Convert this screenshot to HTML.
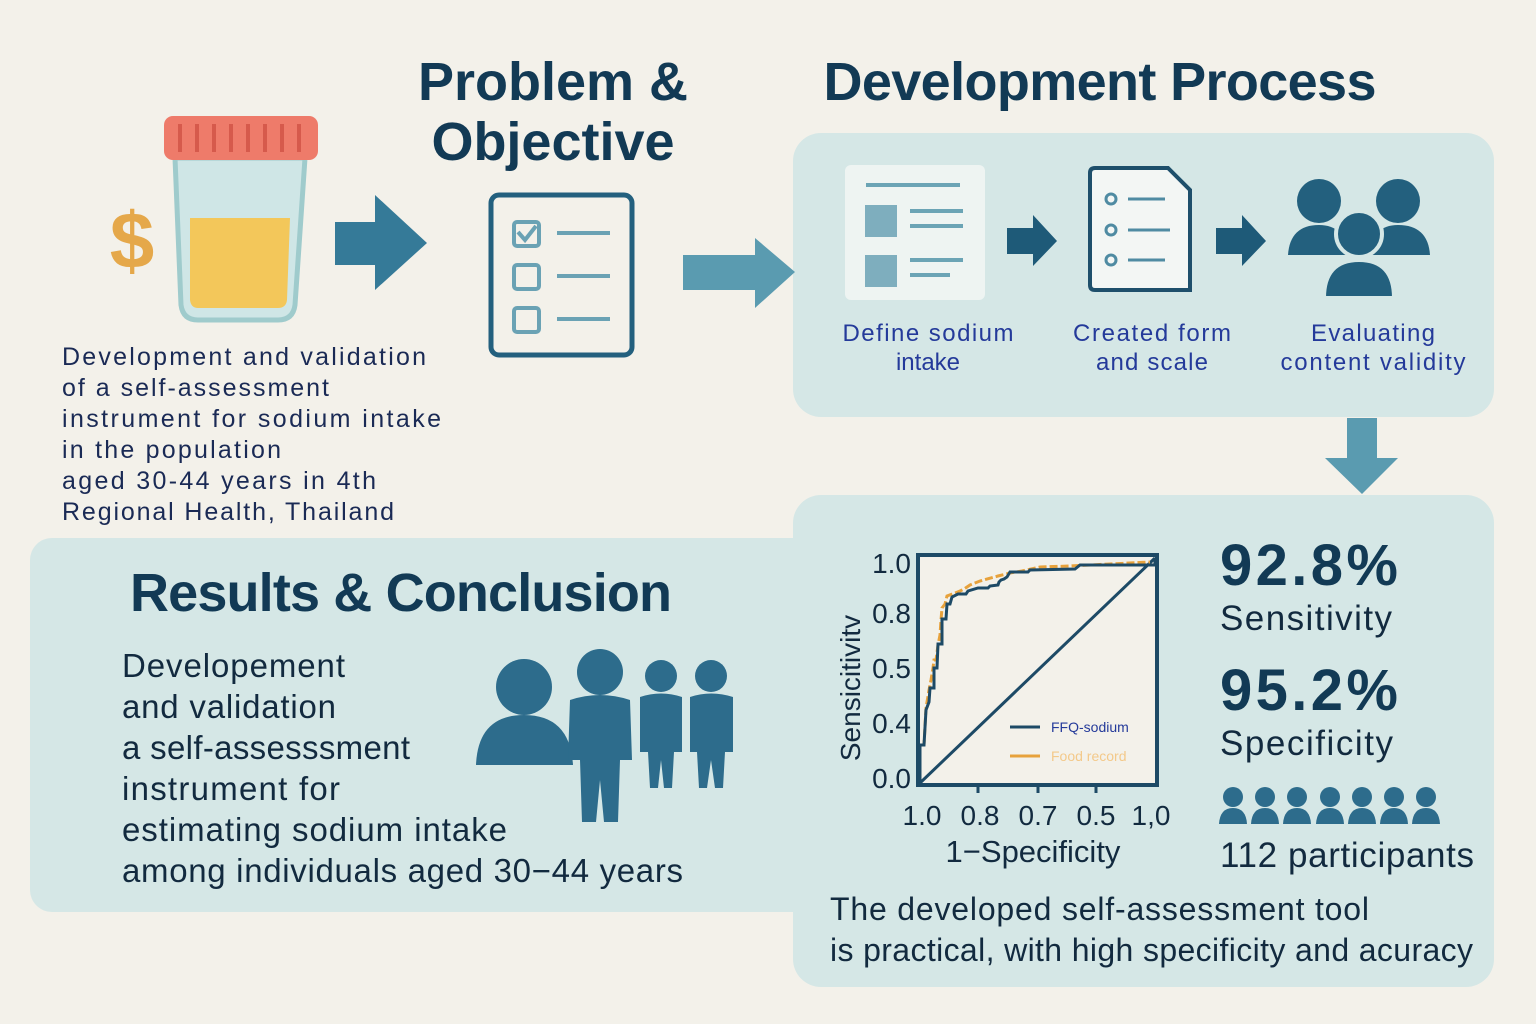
<!DOCTYPE html>
<html><head><meta charset="utf-8"><style>
html,body{margin:0;padding:0;background:#f3f1ea;}
svg{display:block}
text{font-family:"Liberation Sans","DejaVu Sans",sans-serif}
</style></head><body>
<svg width="1536" height="1024" viewBox="0 0 1536 1024" xmlns="http://www.w3.org/2000/svg">
<rect width="1536" height="1024" fill="#f3f1ea"/>
<rect x="793" y="133" width="701" height="284" rx="28" fill="#d5e7e6"/>
<rect x="30" y="538" width="800" height="374" rx="22" fill="#d5e7e6"/>
<rect x="793" y="495" width="701" height="492" rx="28" fill="#d5e7e6"/>
<text x="553" y="100" font-size="54" font-weight="bold" fill="#123a55" text-anchor="middle">Problem &amp;</text>
<text x="553" y="160" font-size="54" font-weight="bold" fill="#123a55" text-anchor="middle">Objective</text>
<text x="1100" y="100" font-size="54" font-weight="bold" fill="#123a55" text-anchor="middle" textLength="553">Development Process</text>
<text x="130" y="611" font-size="54" font-weight="bold" fill="#123a55" textLength="542">Results &amp; Conclusion</text>
<text x="132" y="268" font-size="80" font-weight="bold" fill="#e5a84a" text-anchor="middle">$</text>
<path d="M175 158 L305 158 L295 305 Q293 320 278 320 L198 320 Q183 320 181 305 Z" fill="#cfe6e6" stroke="#9fcbcc" stroke-width="5"/>
<path d="M190 218 L290 218 L287 300 Q286 308 278 308 L198 308 Q191 308 190 300 Z" fill="#f3c75a"/>
<rect x="164" y="116" width="154" height="44" rx="9" fill="#ee7b6a"/>
<g stroke="#d65a4c" stroke-width="4"><line x1="180" y1="124" x2="180" y2="152"/><line x1="197" y1="124" x2="197" y2="152"/><line x1="214" y1="124" x2="214" y2="152"/><line x1="231" y1="124" x2="231" y2="152"/><line x1="248" y1="124" x2="248" y2="152"/><line x1="265" y1="124" x2="265" y2="152"/><line x1="282" y1="124" x2="282" y2="152"/><line x1="299" y1="124" x2="299" y2="152"/></g>
<path d="M335 222 L375 222 L375 195 L427 243 L375 290 L375 265 L335 265 Z" fill="#357a98"/>
<path d="M683 255 L755 255 L755 238 L795 272 L755 308 L755 290 L683 290 Z" fill="#5a9bb0"/>
<path d="M1007 228 L1033 228 L1033 215 L1057 241 L1033 266 L1033 254 L1007 254 Z" fill="#1e5a78"/>
<path d="M1216 228 L1242 228 L1242 215 L1266 241 L1242 266 L1242 254 L1216 254 Z" fill="#1e5a78"/>
<path d="M1347 418 L1377 418 L1377 458 L1398 458 L1362 494 L1325 458 L1347 458 Z" fill="#5a9bb0"/>
<rect x="491" y="195" width="141" height="160" rx="8" fill="none" stroke="#23607e" stroke-width="5"/>
<g fill="none" stroke="#6aa2b4" stroke-width="4"><rect x="514" y="222" width="25" height="24" rx="3"/><rect x="514" y="265" width="25" height="24" rx="3"/><rect x="514" y="308" width="25" height="24" rx="3"/>
<path d="M518 232 L525 240 L536 226"/><line x1="557" y1="233" x2="610" y2="233"/><line x1="557" y1="276" x2="610" y2="276"/><line x1="557" y1="319" x2="610" y2="319"/></g>
<g font-size="25" fill="#1a2a55"><text x="62" y="365" textLength="364">Development and validation</text><text x="62" y="396" textLength="267">of a self-assessment</text><text x="62" y="427" textLength="379">instrument for sodium intake</text><text x="62" y="458" textLength="219">in the population</text><text x="62" y="489" textLength="314">aged 30-44 years in 4th</text><text x="62" y="520" textLength="332">Regional Health, Thailand</text></g>
<rect x="845" y="165" width="140" height="135" rx="6" fill="#eef4f2"/>
<g stroke="#6ba4b5" stroke-width="4"><line x1="866" y1="185" x2="960" y2="185"/><line x1="910" y1="211" x2="963" y2="211"/><line x1="910" y1="226" x2="963" y2="226"/><line x1="910" y1="260" x2="963" y2="260"/><line x1="910" y1="275" x2="950" y2="275"/></g>
<rect x="865" y="205" width="32" height="32" fill="#7eaebe"/><rect x="865" y="255" width="32" height="32" fill="#7eaebe"/>
<path d="M1095 168 L1168 168 L1190 190 L1190 290 L1095 290 Q1090 290 1090 285 L1090 173 Q1090 168 1095 168 Z" fill="#f3f6f4" stroke="#1e4f6b" stroke-width="4"/>
<g fill="none" stroke="#4f8ba2" stroke-width="3"><circle cx="1111" cy="199" r="5"/><circle cx="1111" cy="230" r="5"/><circle cx="1111" cy="260" r="5"/><line x1="1128" y1="199" x2="1165" y2="199"/><line x1="1128" y1="230" x2="1170" y2="230"/><line x1="1128" y1="260" x2="1165" y2="260"/></g>
<g fill="#23607e"><circle cx="1319" cy="201" r="22"/><path d="M1288 255 Q1290 225 1319 225 Q1345 225 1350 255 Z"/><circle cx="1398" cy="201" r="22"/><path d="M1368 255 Q1372 225 1398 225 Q1428 225 1430 255 Z"/><circle cx="1359" cy="234" r="23" stroke="#d5e7e6" stroke-width="4"/><path d="M1324 298 Q1324 260 1359 260 Q1394 260 1394 298 Z" stroke="#d5e7e6" stroke-width="4"/></g>
<g font-size="24" fill="#243a9a" text-anchor="middle"><text x="928" y="341" textLength="171">Define sodium</text><text x="928" y="370">intake</text><text x="1152" y="341" textLength="158">Created form</text><text x="1152" y="370" textLength="112">and scale</text><text x="1373" y="341" textLength="124">Evaluating</text><text x="1373" y="370" textLength="185">content validity</text></g>
<g font-size="33" fill="#122a3f"><text x="122" y="677" textLength="223">Developement</text><text x="122" y="718" textLength="214">and validation</text><text x="122" y="759" textLength="288">a self-assesssment</text><text x="122" y="800" textLength="218">instrument for</text><text x="122" y="841" textLength="385">estimating sodium intake</text><text x="122" y="882" textLength="561">among individuals aged 30−44 years</text></g>
<g fill="#2d6c8c"><circle cx="524" cy="687" r="28"/><path d="M476 765 Q478 715 524 715 Q570 715 573 765 Z"/>
<circle cx="600" cy="672" r="23"/><path d="M570 700 Q600 690 630 700 L632 760 L620 760 L618 822 L604 822 L600 780 L596 822 L582 822 L580 760 L568 760 Z"/>
<circle cx="661" cy="676" r="16"/><path d="M640 697 Q661 690 682 697 L682 752 L674 752 L672 788 L664 788 L661 760 L658 788 L650 788 L648 752 L640 752 Z"/>
<circle cx="711" cy="676" r="16"/><path d="M690 697 Q711 690 733 697 L733 752 L725 752 L723 788 L715 788 L711 760 L707 788 L699 788 L697 752 L690 752 Z"/></g>
<rect x="918" y="555" width="239" height="230" fill="#f3f1ea" stroke="#1d4a66" stroke-width="4"/>
<line x1="920" y1="783" x2="1155" y2="558" stroke="#1d4a66" stroke-width="3"/>
<path d="M921 745 L924 745 L926 708 L929 690 L931 680 L933 668 L934 660 L936 660 L938 645 L940 635 L941 620 L942 608 L945 604 L947 596 L955 593 L960 591 L964 589 L970 585 L980 581 L998 576 L1010 573 L1022 571 L1040 567 L1070 566 L1150 562" fill="none" stroke="#e7a23c" stroke-width="3" stroke-dasharray="8 3"/>
<path d="M920 783 L920 745 L924 745 L926 710 L929 702 L930 688 L934 688 L934 668 L937 668 L938 644 L942 644 L942 619 L946 619 L947 604 L950 604 L952 597 L958 594 L966 594 L968 591 L978 588 L988 588 L990 586 L998 585 L999 582 L1001 580 L1004 579 L1007 577 L1010 572 L1028 572 L1030 570 L1075 569 L1080 565 L1155 565 L1155 558" fill="none" stroke="#1d4a66" stroke-width="3"/>
<line x1="1010" y1="727" x2="1040" y2="727" stroke="#1d4a66" stroke-width="3"/>
<line x1="1010" y1="756" x2="1040" y2="756" stroke="#e7a23c" stroke-width="3"/>
<text x="1051" y="732" font-size="14" fill="#243a9a">FFQ-sodium</text>
<text x="1051" y="761" font-size="14" fill="#f3c98a">Food record</text>
<g font-size="28" fill="#122a3f" text-anchor="end"><text x="911" y="573">1.0</text><text x="911" y="623">0.8</text><text x="911" y="678">0.5</text><text x="911" y="733">0.4</text><text x="911" y="788">0.0</text></g>
<g font-size="28" fill="#122a3f" text-anchor="middle"><text x="922" y="825">1.0</text><text x="980" y="825">0.8</text><text x="1038" y="825">0.7</text><text x="1096" y="825">0.5</text><text x="1151" y="825">1,0</text></g>
<g stroke="#1d4a66" stroke-width="3"><line x1="978" y1="785" x2="978" y2="793"/><line x1="1038" y1="785" x2="1038" y2="793"/><line x1="1096" y1="785" x2="1096" y2="793"/></g>
<text x="1033" y="862" font-size="31" fill="#122a3f" text-anchor="middle">1−Specificity</text>
<text transform="translate(860 688) rotate(-90)" font-size="28" fill="#122a3f" text-anchor="middle">Sensicitivitv</text>
<text x="1220" y="585" font-size="58" font-weight="bold" fill="#123a55" textLength="178">92.8%</text>
<text x="1220" y="630" font-size="35" fill="#122a3f" textLength="172">Sensitivity</text>
<text x="1220" y="710" font-size="58" font-weight="bold" fill="#123a55" textLength="178">95.2%</text>
<text x="1220" y="755" font-size="35" fill="#122a3f" textLength="173">Specificity</text>
<g fill="#2d6c8c">
<circle cx="1233" cy="797" r="10"/><path d="M1219 824 Q1220 808 1233 808 Q1246 808 1247 824 Z"/>
<circle cx="1265" cy="797" r="10"/><path d="M1251 824 Q1252 808 1265 808 Q1278 808 1279 824 Z"/>
<circle cx="1297" cy="797" r="10"/><path d="M1283 824 Q1284 808 1297 808 Q1310 808 1311 824 Z"/>
<circle cx="1330" cy="797" r="10"/><path d="M1316 824 Q1317 808 1330 808 Q1343 808 1344 824 Z"/>
<circle cx="1362" cy="797" r="10"/><path d="M1348 824 Q1349 808 1362 808 Q1375 808 1376 824 Z"/>
<circle cx="1394" cy="797" r="10"/><path d="M1380 824 Q1381 808 1394 808 Q1407 808 1408 824 Z"/>
<circle cx="1426" cy="797" r="10"/><path d="M1412 824 Q1413 808 1426 808 Q1439 808 1440 824 Z"/></g>
<text x="1220" y="867" font-size="35" fill="#122a3f" textLength="254">112 participants</text>
<text x="830" y="920" font-size="32" fill="#122a3f" textLength="539">The developed self-assessment tool</text>
<text x="830" y="961" font-size="32" fill="#122a3f" textLength="643">is practical, with high specificity and acuracy</text>
</svg>
</body></html>
